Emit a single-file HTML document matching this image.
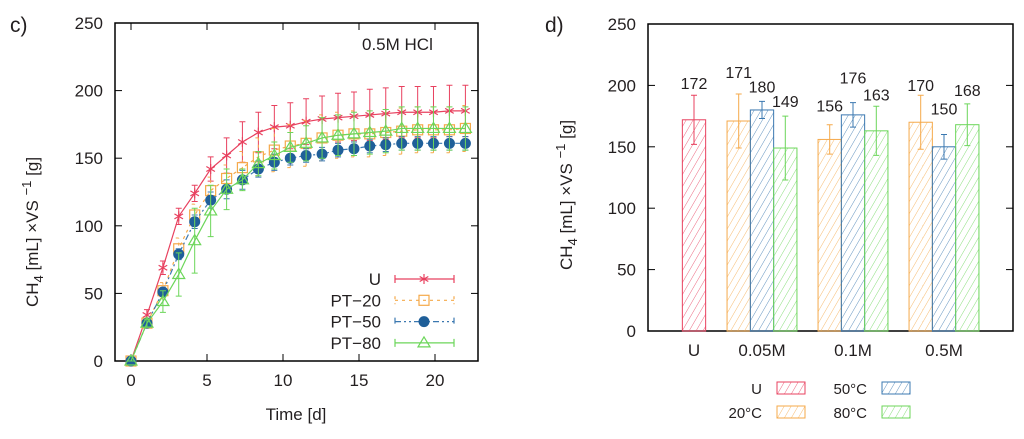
<!DOCTYPE html>
<html><head><meta charset="utf-8"><style>
body{margin:0;background:#fff;width:1024px;height:434px;overflow:hidden}
svg{font-family:"Liberation Sans","DejaVu Sans",sans-serif;fill:#231f20}
</style></head><body>
<svg id="s" width="1024" height="434" viewBox="0 0 1024 434">
<defs>
<pattern id="h-r" width="6" height="6" patternUnits="userSpaceOnUse" patternTransform="rotate(30)"><line x1="0" y1="0" x2="0" y2="6" stroke="#e8415f" stroke-width="0.8"/></pattern>
<pattern id="h-o" width="6" height="6" patternUnits="userSpaceOnUse" patternTransform="rotate(30)"><line x1="0" y1="0" x2="0" y2="6" stroke="#f5a94a" stroke-width="0.8"/></pattern>
<pattern id="h-b" width="6" height="6" patternUnits="userSpaceOnUse" patternTransform="rotate(30)"><line x1="0" y1="0" x2="0" y2="6" stroke="#3b78b0" stroke-width="0.8"/></pattern>
<pattern id="h-g" width="6" height="6" patternUnits="userSpaceOnUse" patternTransform="rotate(30)"><line x1="0" y1="0" x2="0" y2="6" stroke="#6cd65a" stroke-width="0.8"/></pattern>
</defs>
<text x="10" y="32" font-size="21">c)</text>
<text x="545" y="32" font-size="21">d)</text>
<g id="left"></g>
<g id="right"></g>
</svg>
<script>
// ---- Chart c data ----
const days = [0,1.05,2.1,3.14,4.19,5.24,6.29,7.33,8.38,9.43,10.48,11.52,12.57,13.62,14.67,15.71,16.76,17.81,18.86,19.9,20.95,22];
const uVals = [0,34,69,107,124,142,152,162,169,173,174,177,179,180,181,182,183,184,184,184,185,185];
const uErr = [0,4,5,6,6,9,13,15,15,16,17,17,17,18,18,19,19,19,19,19,19,19];
const pt20Vals = [0,28,52,83,108,126,135,143,151,156,159,161,165,167,168,168,169,170,171,171,171,172];
const pt20Err = [0,3,6,8,8,10,10,12,14,16,16,17,17,17,17,17,17,17,17,17,17,17];
const pt50Vals = [0,28,51,79,103,119,127,134,142,147,150,152,153,156,157,159,160,161,161,161,161,161];
const pt50Err = [0,2,3,4,5,6,7,7,6,6,5,5,5,5,5,5,5,5,5,5,5,5];
const pt80Vals = [0,28,44,64,89,111,127,134,146,152,158,161,165,167,168,169,170,172,172,172,172,172];
const pt80Err = [0,3,8,16,24,19,15,8,9,10,11,13,15,15,16,16,16,16,16,16,16,16];
const xTicks = [0,5,10,15,20];
const yTicks = [0,50,100,150,200,250];
// ---- Chart d data ----
const barCats = ["U","0.05M","0.1M","0.5M"];
const barU = [172];
const bar20 = [171,156,170];
const bar50 = [180,176,150];
const bar80 = [149,163,168];
const errU = [20];
const err20 = [22,12,22];
const err50 = [7,10,10];
const err80 = [26,20,17];

const NS="http://www.w3.org/2000/svg";
function mk(p,tag,attrs){const e=document.createElementNS(NS,tag);for(const k in attrs)e.setAttribute(k,attrs[k]);p.appendChild(e);return e;}

// ---------- Left chart ----------
const L=document.getElementById('left');
const lx0=115,lx1=478,ly0=23,ly1=361;
const X=t=>131+t*15.2;
const Y=v=>ly1-(v/250)*(ly1-ly0);
let fr=mk(L,'rect',{x:lx0,y:ly0,width:lx1-lx0,height:ly1-ly0,fill:'none',stroke:'#000','stroke-width':1.5});


yTicks.forEach(v=>{
  mk(L,'line',{x1:lx0,x2:lx0+7,y1:Y(v),y2:Y(v),stroke:'#000'});
  mk(L,'line',{x1:lx1,x2:lx1-7,y1:Y(v),y2:Y(v),stroke:'#000'});
  const t=mk(L,'text',{x:lx0-12,y:Y(v)+6,'font-size':17,'text-anchor':'end'});t.textContent=v;
  
  
});
xTicks.forEach(v=>{
  mk(L,'line',{x1:X(v),x2:X(v),y1:ly1,y2:ly1-7,stroke:'#000'});
  mk(L,'line',{x1:X(v),x2:X(v),y1:ly0,y2:ly0+7,stroke:'#000'});
  const t=mk(L,'text',{x:X(v),y:ly1+25,'font-size':17,'text-anchor':'middle'});t.textContent=v;
  
  
});
let xt=mk(L,'text',{x:296,y:420,'font-size':17,'text-anchor':'middle'});xt.textContent='Time [d]';


function ytitle(parent,cx,cy,name){
  const t=mk(parent,'text',{x:0,y:0,'font-size':17,'text-anchor':'middle',transform:`translate(${cx},${cy}) rotate(-90)`});
  t.innerHTML='CH<tspan dy="5" font-size="13">4</tspan><tspan dy="-5"> [mL] ×VS </tspan><tspan dy="-7" font-size="13">−1</tspan><tspan dy="7"> [g]</tspan>';
  
  
}
ytitle(L,38,232,'y-axis-title-c');
let ht=mk(L,'text',{x:362,y:50,'font-size':17});ht.textContent='0.5M HCl';



const series=[
 {name:'U',vals:uVals,err:uErr,c:'#e8415f',dash:'',m:'star'},
 {name:'PT−20',vals:pt20Vals,err:pt20Err,c:'#f5a94a',dash:'3,4',m:'square'},
 {name:'PT−50',vals:pt50Vals,err:pt50Err,c:'#3b78b0',dash:'6,3,2,3,2,3',m:'circle'},
 {name:'PT−80',vals:pt80Vals,err:pt80Err,c:'#6cd65a',dash:'',m:'tri'}];
function marker(g,m,x,y,c){
  if(m==='star'){[[0,-5],[4.3,-2.5],[4.3,2.5]].forEach(([dx,dy])=>mk(g,'line',{x1:x-dx,y1:y-dy,x2:x+dx,y2:y+dy,stroke:c,'stroke-width':1.2}));}
  else if(m==='square'){mk(g,'rect',{x:x-5,y:y-5,width:10,height:10,fill:'none',stroke:c,'stroke-width':1.2});}
  else if(m==='circle'){mk(g,'circle',{cx:x,cy:y,r:5.5,fill:'#1f5f99'});}
  else {mk(g,'polygon',{points:`${x},${y-6} ${x+6},${y+4} ${x-6},${y+4}`,fill:'none',stroke:c,'stroke-width':1.2});}
}
series.forEach((s,si)=>{
  const g=mk(L,'g',{});
  
  
  s.vals.forEach((v,i)=>{
    const x=X(days[i]);
    const e=mk(g,'path',{d:`M${x},${Y(v-s.err[i])}V${Y(v+s.err[i])}M${x-3},${Y(v-s.err[i])}h6M${x-3},${Y(v+s.err[i])}h6`,stroke:s.c,fill:'none','stroke-width':1,'stroke-dasharray':s.dash});
    
    
  });
  const l=mk(g,'polyline',{points:s.vals.map((v,i)=>X(days[i])+','+Y(v)).join(' '),fill:'none',stroke:s.c,'stroke-width':1.2,'stroke-dasharray':s.dash});
  
  
  s.vals.forEach((v,i)=>marker(g,s.m,X(days[i]),Y(v),s.c));
  const ly=279+si*21.3;
  const lg=mk(L,'g',{});
  
  
  const t=mk(lg,'text',{x:381,y:ly+6,'font-size':17,'text-anchor':'end'});t.textContent=s.name;
  mk(lg,'path',{d:`M395,${ly}H454M395,${ly-4}v8M454,${ly-4}v8`,stroke:s.c,fill:'none','stroke-width':1.2,'stroke-dasharray':s.dash});
  marker(lg,s.m,424,ly,s.c);
});

// ---------- Right chart ----------
const R=document.getElementById('right');
const rx0=648,rx1=1013,ry0=24,ry1=331;
const RY=v=>ry1-(v/250)*(ry1-ry0);
let fr2=mk(R,'rect',{x:rx0,y:ry0,width:rx1-rx0,height:ry1-ry0,fill:'none',stroke:'#000','stroke-width':1.5});


yTicks.forEach(v=>{
  mk(R,'line',{x1:rx0,x2:rx0+7,y1:RY(v),y2:RY(v),stroke:'#000'});
  mk(R,'line',{x1:rx1,x2:rx1-7,y1:RY(v),y2:RY(v),stroke:'#000'});
  const t=mk(R,'text',{x:rx0-12,y:RY(v)+6,'font-size':17,'text-anchor':'end'});t.textContent=v;
  
  
});
ytitle(R,572,195,'y-axis-title-d');
const centers=[694,762,853,944];
const bw=23.3;
barCats.forEach((c,i)=>{
  const t=mk(R,'text',{x:centers[i],y:356,'font-size':17,'text-anchor':'middle'});t.textContent=c;
  
  
});
function bar(x,v,err,fill,col){
  const g=mk(R,'g',{});
  
  
  mk(g,'rect',{x:x,y:RY(v),width:bw,height:ry1-RY(v),fill:`url(#${fill})`,stroke:col,'stroke-width':1});
  const cx=x+bw/2;
  mk(g,'path',{d:`M${cx},${RY(v-err)}V${RY(v+err)}M${cx-3},${RY(v-err)}h6M${cx-3},${RY(v+err)}h6`,stroke:col,fill:'none','stroke-width':1});
  return cx;
}
let cx=bar(centers[0]-bw/2,barU[0],errU[0],'h-r','#e8415f');
let lt=mk(R,'text',{x:cx,y:RY(barU[0]+errU[0])-6,'font-size':16,'text-anchor':'middle'});lt.textContent=barU[0];


const groups=[[bar20,err20,'h-o','#f5a94a'],[bar50,err50,'h-b','#3b78b0'],[bar80,err80,'h-g','#6cd65a']];
const labOff=[[16,13,4],[9,19,20],[9,6,8]];
for(let gi=0;gi<3;gi++){
  groups.forEach((gr,k)=>{
    const x=centers[gi+1]-1.5*bw+k*bw;
    const c=bar(x,gr[0][gi],gr[1][gi],gr[2],gr[3]);
    const t=mk(R,'text',{x:c,y:RY(gr[0][gi]+gr[1][gi])-labOff[k][gi],'font-size':16,'text-anchor':'middle'});t.textContent=gr[0][gi];
    
    
  });
}
const leg=[['U','h-r','#e8415f',762,388],['20°C','h-o','#f5a94a',762,412],['50°C','h-b','#3b78b0',867,388],['80°C','h-g','#6cd65a',867,412]];
leg.forEach(l=>{
  const g=mk(R,'g',{});
  
  
  const t=mk(g,'text',{x:l[3],y:l[4]+6,'font-size':15,'text-anchor':'end'});t.textContent=l[0];
  mk(g,'rect',{x:l[3]+15,y:l[4]-6,width:28,height:12,fill:`url(#${l[1]})`,stroke:l[2],'stroke-width':1});
});
</script>
</body></html>
